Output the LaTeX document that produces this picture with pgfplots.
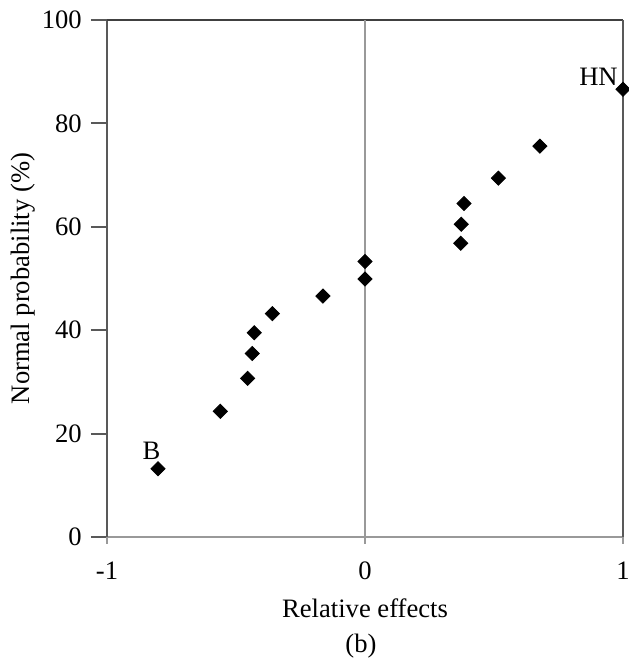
\documentclass[border=0pt]{standalone}
\usepackage{fontspec}
\setmainfont{Liberation Serif}
\usepackage{pgfplots}
\pgfplotsset{compat=1.18}
\pgfplotstableread{
x y
-0.802 13.2
-0.561 24.3
-0.455 30.7
-0.437 35.5
-0.429 39.5
-0.359 43.2
-0.163 46.6
0.000 49.9
0.000 53.3
0.371 56.8
0.373 60.5
0.384 64.5
0.517 69.4
0.678 75.6
1.000 86.6
}\effects
\begin{document}
\fontsize{13.3}{16}\selectfont
\begin{tikzpicture}
\begin{axis}[
  width=258pt, height=258.5pt, scale only axis,
  xmin=-1, xmax=1, ymin=0, ymax=100,
  xtick={-1,0,1}, ytick={0,20,...,100},
  /pgf/number format/assume math mode=true,
  tick label style={font=\fontsize{13.3}{16}\selectfont},
  axis line style={draw=none},
  tick align=outside, ytick pos=left, xtick pos=bottom,
  major tick length=8pt,
  ytick style={draw=black!65, line width=1pt},
  xtick style={draw=none},
  clip=false,
]
% spines
\draw[black!40, line width=1pt] (rel axis cs:0,0) -- (rel axis cs:1,0);
\draw[black!65, line width=1pt] (rel axis cs:0,0) -- (rel axis cs:0,1);
\draw[black!75, line width=1pt] (rel axis cs:0,1) -- (rel axis cs:1,1);
\draw[black!65, line width=1pt] (rel axis cs:1,0) -- (rel axis cs:1,1);
\draw[black!40, line width=1pt] (axis cs:0,0) -- (axis cs:0,100);
% x ticks
\draw[black!40, line width=1pt] (axis cs:-1,0) -- ([yshift=-3.5pt]axis cs:-1,0);
\draw[black!40, line width=1pt] (axis cs:0,0) -- ([yshift=-3.5pt]axis cs:0,0);
\draw[black!40, line width=1pt] (axis cs:1,0) -- ([yshift=-3.5pt]axis cs:1,0);
\addplot[only marks, mark=square*, mark size=2.5pt,
  every mark/.append style={rotate=45, fill=black, draw=black}] table {\effects};
\node[anchor=base, inner sep=0pt] at (axis cs:-0.828,14.9) {B};
\node[anchor=base, inner sep=0pt] at (axis cs:0.905,87.4) {HN};
\node[anchor=base, inner sep=0pt] at ([yshift=-40pt]rel axis cs:0.5,0) {Relative effects};
\node[anchor=base, inner sep=0pt] at ([yshift=-57.5pt, xshift=-2pt]rel axis cs:0.5,0) {(b)};
\node[anchor=base, rotate=90, inner sep=0pt] at ([xshift=-38.5pt]rel axis cs:0,0.5) {Normal probability (\%)};
\coordinate (ll) at (rel axis cs:0,0);
\coordinate (ur) at (rel axis cs:1,1);
\end{axis}
\pgfresetboundingbox
\path[use as bounding box] ([xshift=-53.5pt, yshift=-62.5pt]ll) rectangle ([xshift=3pt, yshift=10pt]ur);
\end{tikzpicture}
\end{document}
